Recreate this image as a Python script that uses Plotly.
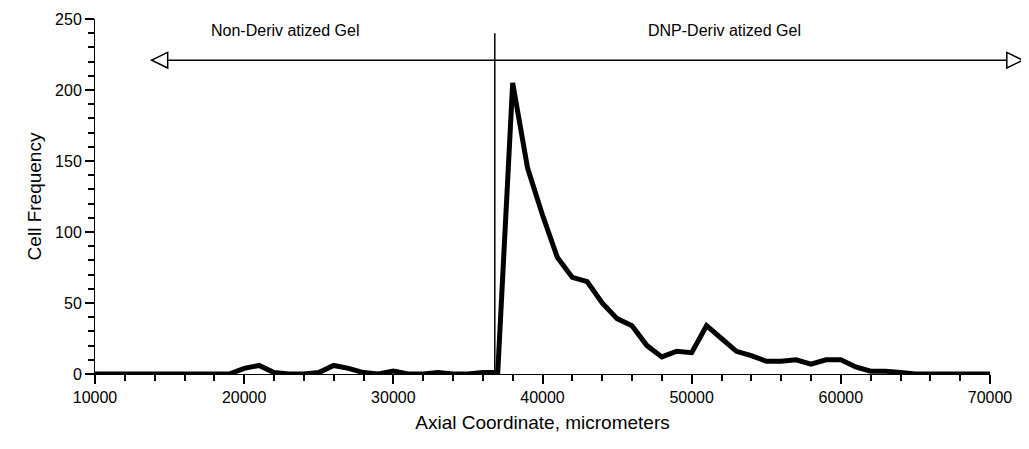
import plotly.graph_objects as go

x_um = list(range(10000, 71000, 1000))
freq = [0, 0, 0, 0, 0, 0, 0, 0, 0, 0,
        4, 6, 1, 0, 0, 1, 6, 4, 1, 0,
        2, 0, 0, 1, 0, 0, 1, 1, 205, 145,
        112, 82, 68, 65, 50, 39, 34, 20, 12, 16,
        15, 34, 25, 16, 13, 9, 9, 10, 7, 10,
        10, 5, 2, 2, 1, 0, 0, 0, 0, 0, 0]

boundary_x = 36800
arrow_y = 221
arrow_ends = [13800, 72200]
region_labels = ["Non-Deriv atized Gel", "DNP-Deriv atized Gel"]
label_x = [22800, 52200]

x0, x1 = 10000, 70000
plot_w = 895
def px(x):
    return (x - x0) / (x1 - x0)

fig = go.Figure()
fig.add_trace(go.Scatter(x=x_um, y=freq, mode="lines",
                         line=dict(color="black", width=5)))
fig.add_trace(go.Scatter(x=[boundary_x, boundary_x], y=[0, 240], mode="lines",
                         line=dict(color="black", width=1.5)))

a, b = px(arrow_ends[0]), px(arrow_ends[1])
hw = 16 / plot_w
hh = 5.5
fig.add_shape(type="line", xref="paper", yref="y", x0=a, x1=b, y0=arrow_y, y1=arrow_y,
              line=dict(color="black", width=1.5))
fig.add_shape(type="path", xref="paper", yref="y",
              path=f"M {a} {arrow_y} L {a + hw} {arrow_y + hh} L {a + hw} {arrow_y - hh} Z",
              fillcolor="white", line=dict(color="black", width=1.5))
fig.add_shape(type="path", xref="paper", yref="y",
              path=f"M {b} {arrow_y} L {b - hw} {arrow_y + hh} L {b - hw} {arrow_y - hh} Z",
              fillcolor="white", line=dict(color="black", width=1.5))

for lx, txt in zip(label_x, region_labels):
    fig.add_annotation(x=lx, y=242, text=txt, showarrow=False,
                       font=dict(size=16, color="black"))

fig.update_layout(
    width=1029, height=449, showlegend=False,
    plot_bgcolor="white", paper_bgcolor="white",
    margin=dict(l=87, r=47, t=11, b=83),
    font=dict(family="Liberation Sans, Arial", size=16, color="black"),
)
fig.update_xaxes(range=[x0, x1], tickvals=list(range(10000, 80000, 10000)),
                 ticktext=[str(v) for v in range(10000, 80000, 10000)],
                 automargin=False,
                 showgrid=False, zeroline=False, showline=True, linecolor="black",
                 ticks="outside", ticklen=9, tickwidth=1.5, tickcolor="black",
                 minor=dict(dtick=2000, tick0=0, ticks="outside", ticklen=6,
                            tickwidth=1.5, tickcolor="black", showgrid=False),
                 title=dict(text="Axial Coordinate, micrometers", standoff=10))
fig.update_yaxes(range=[0, 250], tickvals=list(range(0, 300, 50)), automargin=False,
                 showgrid=False, zeroline=False, showline=True, linecolor="black",
                 ticks="outside", ticklen=9, tickwidth=1.5, tickcolor="black",
                 minor=dict(dtick=10, tick0=0, ticks="outside", ticklen=6,
                            tickwidth=1.5, tickcolor="black", showgrid=False),
                 title=dict(text="Cell Frequency", standoff=8))

fig.write_html("out.html")
